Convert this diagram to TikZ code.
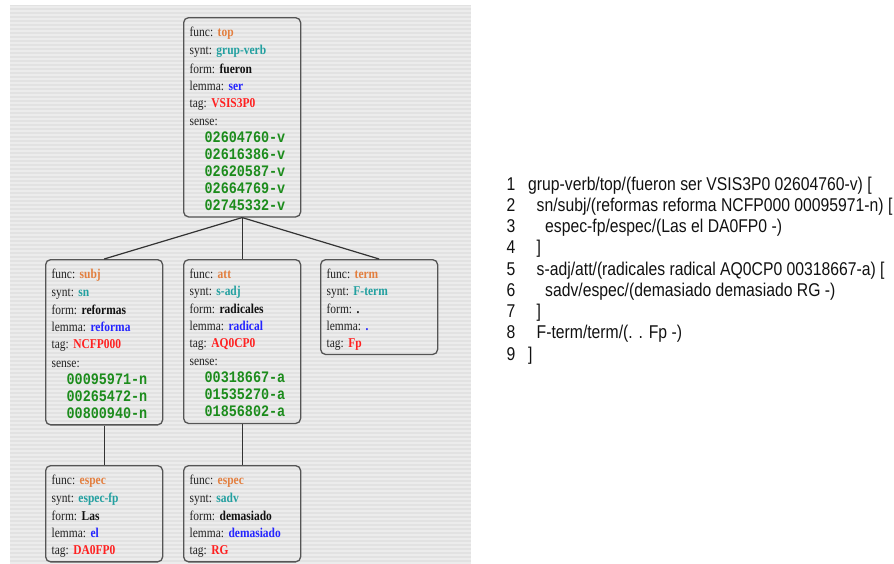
\documentclass[tikz,border=0pt]{standalone}
\usepackage{fontspec}
\setmainfont[FakeStretch=0.85]{Liberation Serif}
\newfontfamily\monof[FakeStretch=0.84]{Liberation Mono}
\newfontfamily\sansf[FakeStretch=0.85]{Liberation Sans}
\definecolor{cbg}{HTML}{E2E2E2}
\definecolor{cstripe}{HTML}{ECECEC}
\definecolor{cborder}{HTML}{555555}
\definecolor{clabel}{HTML}{222222}
\definecolor{cfunc}{HTML}{E37F3F}
\definecolor{csynt}{HTML}{22A0A0}
\definecolor{cform}{HTML}{111111}
\definecolor{clemma}{HTML}{2424FF}
\definecolor{ctag}{HTML}{FF2020}
\definecolor{csense}{HTML}{1C8C1C}
\definecolor{cedge}{HTML}{333333}
\definecolor{ctext}{HTML}{111111}
\newcommand{\fstrut}{\rule[-2.5pt]{0pt}{17pt}}
\newcommand{\fld}[3]{\fstrut #1:\ \textcolor{#2}{\textbf{#3}}}
\newcommand{\sns}[1]{\fstrut\hspace*{15pt}{\monof\fontsize{16}{17}\selectfont\bfseries\color{csense}#1}}
\tikzset{
  fbox/.style={draw=cborder, line width=1.3pt, rounded corners=5pt,
    inner xsep=6pt, inner ysep=4pt, text width=105pt, align=left,
    anchor=north west, text=clabel, font=\fontsize{13.5}{17}\selectfont\frenchspacing},
  edge/.style={draw=cedge, line width=1.2pt},
  stripe/.style={draw=cstripe, line width=1.6pt},
  numtxt/.style={anchor=base west, inner sep=0pt, text=ctext,
    font=\sansf\fontsize{18.5}{21}\selectfont},
}
\begin{document}
\begin{tikzpicture}[x=1pt,y=-1pt]
\useasboundingbox (0,0) rectangle (894,563);
% background panel
\fill[cbg] (10,5) rectangle (471,563);
\foreach \yy in {7,11,...,563} \draw[stripe] (10,\yy) -- (471,\yy);

% boxes
\node[fbox] (top) at (183,17) {%
\fld{func}{cfunc}{top}\\
\fld{synt}{csynt}{grup-verb}\\
\fld{form}{cform}{fueron}\\
\fld{lemma}{clemma}{ser}\\
\fld{tag}{ctag}{VSIS3P0}\\
\fstrut sense:\\
\sns{02604760-v}\\
\sns{02616386-v}\\
\sns{02620587-v}\\
\sns{02664769-v}\\
\sns{02745332-v}};

\node[fbox] (subj) at (45,259) {%
\fld{func}{cfunc}{subj}\\
\fld{synt}{csynt}{sn}\\
\fld{form}{cform}{reformas}\\
\fld{lemma}{clemma}{reforma}\\
\fld{tag}{ctag}{NCFP000}\\
\fstrut sense:\\
\sns{00095971-n}\\
\sns{00265472-n}\\
\sns{00800940-n}};

\node[fbox] (att) at (183,259) {%
\fld{func}{cfunc}{att}\\
\fld{synt}{csynt}{s-adj}\\
\fld{form}{cform}{radicales}\\
\fld{lemma}{clemma}{radical}\\
\fld{tag}{ctag}{AQ0CP0}\\
\fstrut sense:\\
\sns{00318667-a}\\
\sns{01535270-a}\\
\sns{01856802-a}};

\node[fbox] (term) at (320,259) {%
\fld{func}{cfunc}{term}\\
\fld{synt}{csynt}{F-term}\\
\fld{form}{cform}{.}\\
\fld{lemma}{clemma}{.}\\
\fld{tag}{ctag}{Fp}};

\node[fbox] (espA) at (45,465) {%
\fld{func}{cfunc}{espec}\\
\fld{synt}{csynt}{espec-fp}\\
\fld{form}{cform}{Las}\\
\fld{lemma}{clemma}{el}\\
\fld{tag}{ctag}{DA0FP0}};

\node[fbox] (espB) at (183,465) {%
\fld{func}{cfunc}{espec}\\
\fld{synt}{csynt}{sadv}\\
\fld{form}{cform}{demasiado}\\
\fld{lemma}{clemma}{demasiado}\\
\fld{tag}{ctag}{RG}};

% connectors
\draw[edge] (top.south) -- (subj.north);
\draw[edge] (top.south) -- (att.north);
\draw[edge] (top.south) -- (term.north);
\draw[edge] (subj.south) -- (espA.north);
\draw[edge] (att.south) -- (espB.north);

% bracketed listing
\node[numtxt] (n1) at (506.5,190) {1};
\node[numtxt] (n2) at (506.5,211.25) {2};
\node[numtxt] (n3) at (506.5,232.5) {3};
\node[numtxt] (n4) at (506.5,253.75) {4};
\node[numtxt] (n5) at (506.5,275) {5};
\node[numtxt] (n6) at (506.5,296.25) {6};
\node[numtxt] (n7) at (506.5,317.5) {7};
\node[numtxt] (n8) at (506.5,338.75) {8};
\node[numtxt] (n9) at (506.5,360) {9};
\node[numtxt] (t1) at (528,190) {grup-verb/top/(fueron ser VSIS3P0 02604760-v) [};
\node[numtxt] (t2) at (536.5,211.25) {sn/subj/(reformas reforma NCFP000 00095971-n) [};
\node[numtxt] (t3) at (545,232.5) {espec-fp/espec/(Las el DA0FP0 -)};
\node[numtxt] (t4) at (536.5,253.75) {]};
\node[numtxt] (t5) at (536.5,275) {s-adj/att/(radicales radical AQ0CP0 00318667-a) [};
\node[numtxt] (t6) at (545,296.25) {sadv/espec/(demasiado demasiado RG -)};
\node[numtxt] (t7) at (536.5,317.5) {]};
\node[numtxt] (t8) at (536.5,338.75) {F-term/term/(. . Fp -)};
\node[numtxt] (t9) at (528,360) {]};
\end{tikzpicture}
\end{document}
